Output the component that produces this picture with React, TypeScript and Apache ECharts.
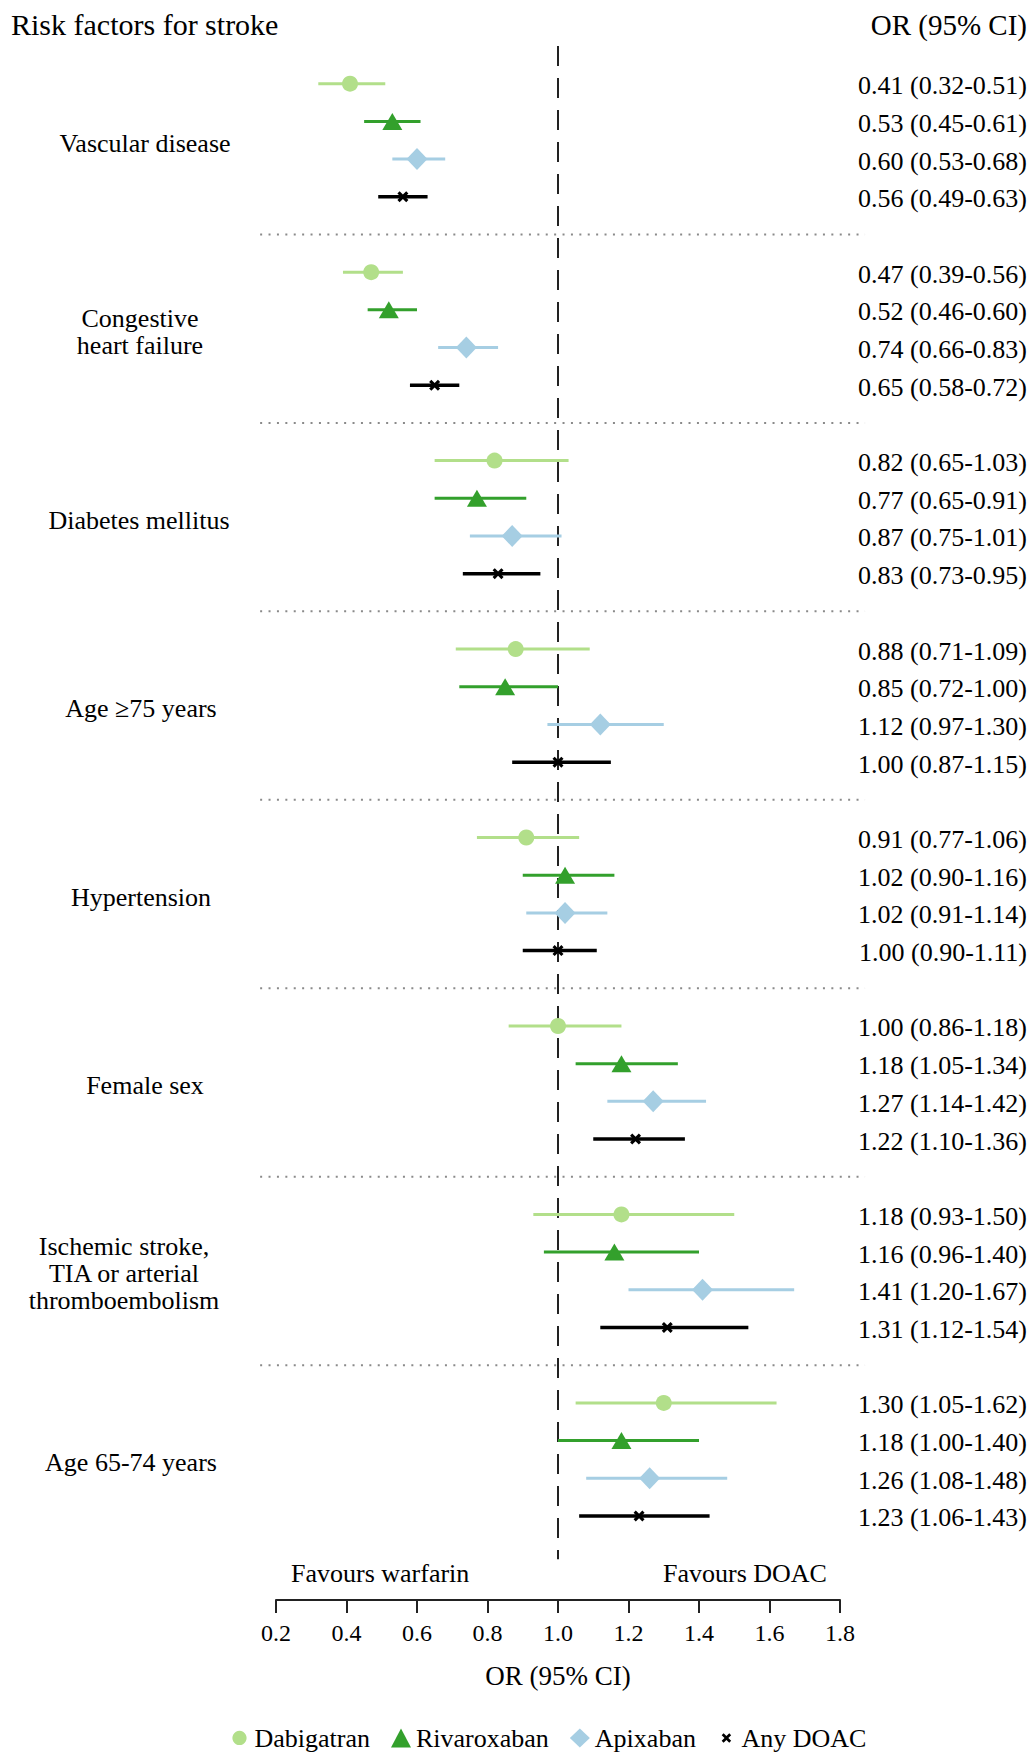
import React, { useEffect, useRef } from "react";
import * as echarts from "echarts";

const groups = [
  "Vascular disease",
  "Congestive\nheart failure",
  "Diabetes mellitus",
  "Age ≥75 years",
  "Hypertension",
  "Female sex",
  "Ischemic stroke,\nTIA or arterial\nthromboembolism",
  "Age 65-74 years",
];

const dabigatranOR = [0.41, 0.47, 0.82, 0.88, 0.91, 1.0, 1.18, 1.3];
const dabigatranLo = [0.32, 0.39, 0.65, 0.71, 0.77, 0.86, 0.93, 1.05];
const dabigatranHi = [0.51, 0.56, 1.03, 1.09, 1.06, 1.18, 1.5, 1.62];

const rivaroxabanOR = [0.53, 0.52, 0.77, 0.85, 1.02, 1.18, 1.16, 1.18];
const rivaroxabanLo = [0.45, 0.46, 0.65, 0.72, 0.9, 1.05, 0.96, 1.0];
const rivaroxabanHi = [0.61, 0.6, 0.91, 1.0, 1.16, 1.34, 1.4, 1.4];

const apixabanOR = [0.6, 0.74, 0.87, 1.12, 1.02, 1.27, 1.41, 1.26];
const apixabanLo = [0.53, 0.66, 0.75, 0.97, 0.91, 1.14, 1.2, 1.08];
const apixabanHi = [0.68, 0.83, 1.01, 1.3, 1.14, 1.42, 1.67, 1.48];

const anyDoacOR = [0.56, 0.65, 0.83, 1.0, 1.0, 1.22, 1.31, 1.23];
const anyDoacLo = [0.49, 0.58, 0.73, 0.87, 0.9, 1.1, 1.12, 1.06];
const anyDoacHi = [0.63, 0.72, 0.95, 1.15, 1.11, 1.36, 1.54, 1.43];

const xTicks = [0.2, 0.4, 0.6, 0.8, 1.0, 1.2, 1.4, 1.6, 1.8];

const FONT = "'Liberation Serif', 'Times New Roman', serif";
const CROSS_SHAPE = "M2,0 L5,3 L8,0 L10,2 L7,5 L10,8 L8,10 L5,7 L2,10 L0,8 L3,5 L0,2 Z";
const CROSS = "path://" + CROSS_SHAPE;
// legend icons padded with invisible specks so they draw smaller within the legend box
const LEGEND_CROSS = "path://M-5,-5 h0.01 v0.01 z M15,15 h0.01 v0.01 z " + CROSS_SHAPE;
const LEGEND_CIRCLE =
  "path://M-2,-2 h0.01 v0.01 z M18,18 h0.01 v0.01 z M8,0.5 A7.5,7.5 0 1,1 7.99,0.5 Z";

const drugs = [
  { name: "Dabigatran", color: "#b2df8a", symbol: "circle", icon: LEGEND_CIRCLE, size: 16, lw: 3, or: dabigatranOR, lo: dabigatranLo, hi: dabigatranHi },
  { name: "Rivaroxaban", color: "#33a02c", symbol: "triangle", icon: "triangle", size: [20, 17], lw: 3, or: rivaroxabanOR, lo: rivaroxabanLo, hi: rivaroxabanHi },
  { name: "Apixaban", color: "#a6cee3", symbol: "diamond", icon: "diamond", size: [21, 22], lw: 3, or: apixabanOR, lo: apixabanLo, hi: apixabanHi },
  { name: "Any DOAC", color: "#000000", symbol: CROSS, icon: LEGEND_CROSS, size: 11, lw: 3.5, or: anyDoacOR, lo: anyDoacLo, hi: anyDoacHi },
];

const labelCx = [145, 140, 139, 141, 141, 145, 124, 131];

const SLOTS = 5;
const ypos = (g: number, d: number) => g * SLOTS + d;

function fmt(v: number) {
  return v.toFixed(2);
}

export default function App() {
  const ref = useRef<HTMLDivElement>(null);
  useEffect(() => {
    if (!ref.current) return;
    const chart = echarts.init(ref.current, null, { renderer: "svg" });

    const series: any[] = [];

    // reference dashed line at OR = 1
    series.push({
      type: "custom",
      name: "ref",
      silent: true,
      clip: false,
      z: 1,
      data: [[1, -1, groups.length * SLOTS - 0.85]],
      renderItem: (params: any, api: any) => {
        const p1 = api.coord([api.value(0), api.value(1)]);
        const p2 = api.coord([api.value(0), api.value(2)]);
        return {
          type: "line",
          shape: { x1: p1[0], y1: p1[1], x2: p2[0], y2: p2[1] },
          style: { stroke: "#222", lineWidth: 2, lineDash: [20, 12] },
        };
      },
    });

    // dotted separators
    series.push({
      type: "custom",
      name: "sep",
      silent: true,
      clip: false,
      z: 1,
      data: groups.slice(0, -1).map((_, g) => [0.155, 1.871, ypos(g, 4)]),
      renderItem: (params: any, api: any) => {
        const p1 = api.coord([api.value(0), api.value(2)]);
        const p2 = api.coord([api.value(1), api.value(2)]);
        return {
          type: "line",
          shape: { x1: p1[0], y1: p1[1], x2: p2[0], y2: p2[1] },
          style: { stroke: "#8a8a8a", lineWidth: 2, lineDash: [2, 6.4] },
        };
      },
    });

    drugs.forEach((dr, d) => {
      series.push({
        type: "custom",
        name: dr.name + " CI",
        silent: true,
        clip: false,
        z: 2,
        itemStyle: { color: dr.color },
        data: dr.or.map((_, g) => [dr.lo[g], dr.hi[g], ypos(g, d)]),
        renderItem: (params: any, api: any) => {
          const p1 = api.coord([api.value(0), api.value(2)]);
          const p2 = api.coord([api.value(1), api.value(2)]);
          return {
            type: "line",
            shape: { x1: p1[0], y1: p1[1], x2: p2[0], y2: p2[1] },
            style: { stroke: dr.color, lineWidth: dr.lw },
          };
        },
      });
      series.push({
        type: "scatter",
        name: dr.name,
        silent: true,
        z: 3,
        symbol: dr.symbol,
        symbolSize: dr.size,
        itemStyle: { color: dr.color, opacity: 1 },
        data: dr.or.map((v, g) => [v, ypos(g, d)]),
      });
    });

    // right-side OR (95% CI) texts
    const rightRows: any[] = [];
    drugs.forEach((dr, d) => {
      dr.or.forEach((v, g) => {
        rightRows.push([v, dr.lo[g], dr.hi[g], ypos(g, d)]);
      });
    });
    series.push({
      type: "custom",
      name: "rightText",
      silent: true,
      clip: false,
      z: 4,
      data: rightRows,
      renderItem: (params: any, api: any) => {
        const y = api.coord([1, api.value(3)])[1];
        const txt = `${fmt(api.value(0))} (${fmt(api.value(1))}-${fmt(api.value(2))})`;
        return {
          type: "text",
          x: 1027,
          y: y + 2,
          style: {
            text: txt,
            fill: "#000",
            fontSize: 26,
            fontFamily: FONT,
            align: "right",
            textAlign: "right",
            verticalAlign: "middle",
            textVerticalAlign: "middle",
          },
        };
      },
    });

    // left group labels
    series.push({
      type: "custom",
      name: "leftText",
      silent: true,
      clip: false,
      z: 4,
      data: groups.map((_, g) => [ypos(g, 1.5), g]),
      renderItem: (params: any, api: any) => {
        const g = api.value(1);
        const y = api.coord([1, api.value(0)])[1];
        return {
          type: "text",
          x: labelCx[g],
          y: y + 3,
          style: {
            text: groups[g],
            fill: "#000",
            fontSize: 26,
            lineHeight: 27,
            fontFamily: FONT,
            align: "center",
            textAlign: "center",
            verticalAlign: "middle",
            textVerticalAlign: "middle",
          },
        };
      },
    });

    const option: any = {
      animation: false,
      backgroundColor: "#ffffff",
      textStyle: { fontFamily: FONT },
      grid: { left: 276, right: 194, top: 46, bottom: 157, containLabel: false },
      xAxis: {
        type: "value",
        min: xTicks[0],
        max: xTicks[xTicks.length - 1],
        interval: 0.2,
        splitLine: { show: false },
        axisLine: { show: true, onZero: false, lineStyle: { color: "#222", width: 2 } },
        axisTick: { show: true, inside: false, length: 13, lineStyle: { color: "#222", width: 2 } },
        axisLabel: {
          show: true,
          margin: 21,
          fontSize: 24,
          color: "#000",
          fontFamily: FONT,
          formatter: (v: number) => v.toFixed(1),
        },
        name: "OR (95% CI)",
        nameLocation: "middle",
        nameGap: 62,
        nameTextStyle: { fontSize: 27, color: "#000", fontFamily: FONT },
      },
      yAxis: {
        type: "value",
        inverse: true,
        min: -1,
        max: 40.23,
        show: false,
        splitLine: { show: false },
      },
      legend: {
        show: true,
        left: 225,
        top: 1720,
        orient: "horizontal",
        itemGap: 21,
        itemWidth: 20,
        itemHeight: 19,
        selectedMode: false,
        textStyle: { fontSize: 26, color: "#000", fontFamily: FONT },
        data: drugs.map((dr) => ({ name: dr.name, icon: dr.icon })),
      },
      graphic: [
        {
          type: "text",
          left: 11,
          top: 9,
          style: { text: "Risk factors for stroke", fill: "#000", fontSize: 30, fontFamily: FONT },
        },
        {
          type: "text",
          right: 7,
          top: 10,
          style: { text: "OR (95% CI)", fill: "#000", fontSize: 29, fontFamily: FONT },
        },
        {
          type: "text",
          left: 291,
          top: 1560,
          style: { text: "Favours warfarin", fill: "#000", fontSize: 26, fontFamily: FONT },
        },
        {
          type: "text",
          left: 663,
          top: 1560,
          style: { text: "Favours DOAC", fill: "#000", fontSize: 26, fontFamily: FONT },
        },
      ],
      series,
    };

    chart.setOption(option);
    return () => chart.dispose();
  }, []);

  return (
    <div
      ref={ref}
      style={{ position: "absolute", left: 0, top: 0, width: 1034, height: 1757, background: "#fff" }}
    />
  );
}
